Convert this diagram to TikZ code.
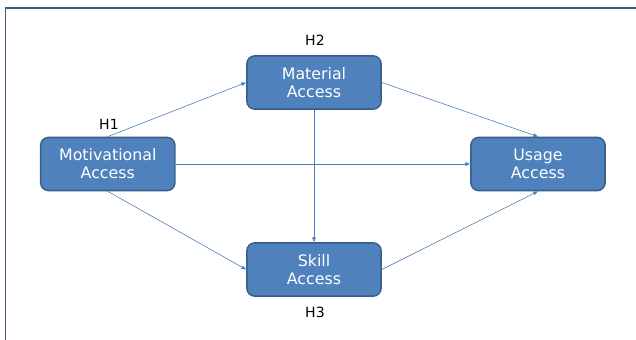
\documentclass[tikz,border=0pt]{standalone}
\usepackage{fontspec}
\setmainfont{DejaVu Sans}
\usepackage{tikz}
\usetikzlibrary{arrows.meta}
\usepackage{xcolor}

\definecolor{boxfill}{HTML}{4F81BD}
\definecolor{boxline}{HTML}{385D8A}
\definecolor{linkcol}{HTML}{4A7EBB}
\definecolor{framecol}{HTML}{3C5A7E}

\tikzset{
  access/.style={draw=boxline, line width=1.2pt, fill=boxfill, rounded corners=0.24cm,
    minimum width=4.03cm, minimum height=1.6cm, align=center, text=white,
    font=\fontsize{13.5}{15.5}\selectfont},
  hyp/.style={font=\fontsize{12}{14}\selectfont},
  link/.style={draw=linkcol, line width=0.5pt, -{Triangle[length=4pt,width=3pt]}}
}

\begin{document}
\begin{tikzpicture}[x=0.03cm,y=-0.03cm]
        % Page area and the frame (only top and left edges show)
        \useasboundingbox (0,0) rectangle (636,340);
        \draw [framecol, line width=1.7pt] (5.5,340) -- (5.5,7.8) -- (636,7.8);

        % Access boxes
        \node[access] (mot) at (107.8,164) {Motivational\\Access};
        \node[access] (mat) at (314,82.5) {Material\\Access};
        \node[access] (usg) at (538,164) {Usage\\Access};
        \node[access] (skl) at (314,269.5) {Skill\\Access};

        % Hypothesis labels
        \node[hyp] (h1) at (109,124) {H1};
        \node[hyp] (h2) at (315,40) {H2};
        \node[hyp] (h3) at (315,312) {H3};

        % Paths between the boxes
        \draw[link] (mot.north) -- (mat.west);
        \draw[link] (mot.east) -- (usg.west);
        \draw[link] (mot.south) -- (skl.west);
        \draw[link] (mat.south) -- (skl.north);
        \draw[link] (mat.east) -- (usg.north);
        \draw[link] (skl.east) -- (usg.south);
    \end{tikzpicture}
\end{document}
